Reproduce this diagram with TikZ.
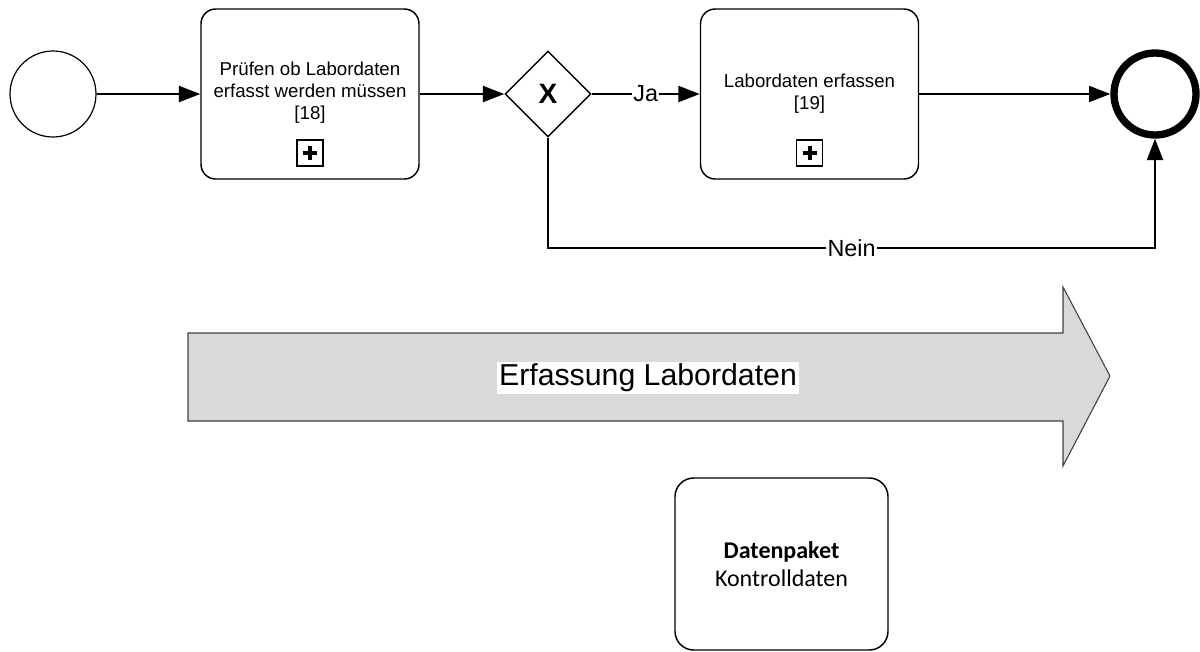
\documentclass[tikz,border=0pt]{standalone}
\usepackage{fontspec}
\setmainfont{Liberation Sans}
\newfontfamily\calfont{Carlito}
\usetikzlibrary{arrows.meta,shapes.geometric,calc}
\definecolor{phasegray}{RGB}{217,217,217}
\begin{document}
\begin{tikzpicture}[x=0.75pt,y=-0.75pt,
  flow/.style={line width=1.5pt,-{Triangle[length=16pt,width=12pt]}},
  task/.style={draw,line width=1.1pt,rounded corners=11pt,minimum width=163.5pt,
    minimum height=127.5pt,inner sep=0pt},
  tasktext/.style={align=center,inner sep=0pt,font=\fontsize{14}{16.5}\selectfont},
  plusbox/.style={draw,line width=1.4pt,minimum size=19.5pt,inner sep=0pt,
    path picture={\draw[line width=3pt]
      ($(path picture bounding box.center)+(-7,0)$) -- ($(path picture bounding box.center)+(7,0)$)
      ($(path picture bounding box.center)+(0,-7)$) -- ($(path picture bounding box.center)+(0,7)$);}},
  startev/.style={draw,circle,line width=0.9pt,minimum size=64.5pt,inner sep=0pt},
  endev/.style={draw,circle,line width=5.5pt,minimum size=61.5pt,inner sep=0pt},
  gateway/.style={draw,diamond,line width=1.1pt,minimum width=64.5pt,minimum height=64.5pt,
    inner sep=0pt,font=\bfseries\fontsize{21}{21}\selectfont},
  lbl/.style={fill=white,inner sep=1pt,font=\fontsize{17.5}{20}\selectfont},
  databox/.style={draw,line width=1.1pt,rounded corners=14pt,minimum width=159.75pt,
    minimum height=129pt,align=center,font=\calfont\fontsize{18}{21.5}\selectfont},
]
\useasboundingbox (0,0) rectangle (1200,651);

% process flow
\node[startev] (start) at (53,94) {};
\node[task] (t1) at (310,94) {};
\node[tasktext] (t1text) at (310,93) {Prüfen ob Labordaten\\erfasst werden müssen\\{[18]}};
\node[plusbox] (p1) at ($(t1.south)+(0,-27)$) {};
\node[gateway] (gw) at (548,94) {X};
\node[task] (t2) at (809.5,94) {};
\node[tasktext] (t2text) at (809.5,94) {Labordaten erfassen\\{[19]}};
\node[plusbox] (p2) at ($(t2.south)+(0,-27)$) {};
\node[endev] (end) at (1155,94) {};

\draw[flow] (start) -- (t1);
\draw[flow] (t1) -- (gw);
\draw[flow] (gw) -- node[lbl] (ja) {Ja} (t2);
\draw[flow] (t2) -- (end);
\coordinate (nbend) at ($(gw.south)+(0,110)$);
\draw[flow] (gw.south) -- (nbend) -| node[lbl,pos=0.25] (nein) {Nein} (end.south);

% phase arrow
\draw[fill=phasegray,draw=black!75,line width=0.8pt]
  (188,333) -- (1063,333) -- (1063,287) -- (1110,376) -- (1063,466)
  -- (1063,421) -- (188,421) -- cycle;
\node[fill=white,inner sep=1.5pt,font=\fontsize{22.7}{26}\selectfont] (phase) at (648,378) {Erfassung Labordaten};

% data package
\node[databox] (dp) at (781.5,564) {{\bfseries Datenpaket}\\Kontrolldaten};
\end{tikzpicture}
\end{document}
